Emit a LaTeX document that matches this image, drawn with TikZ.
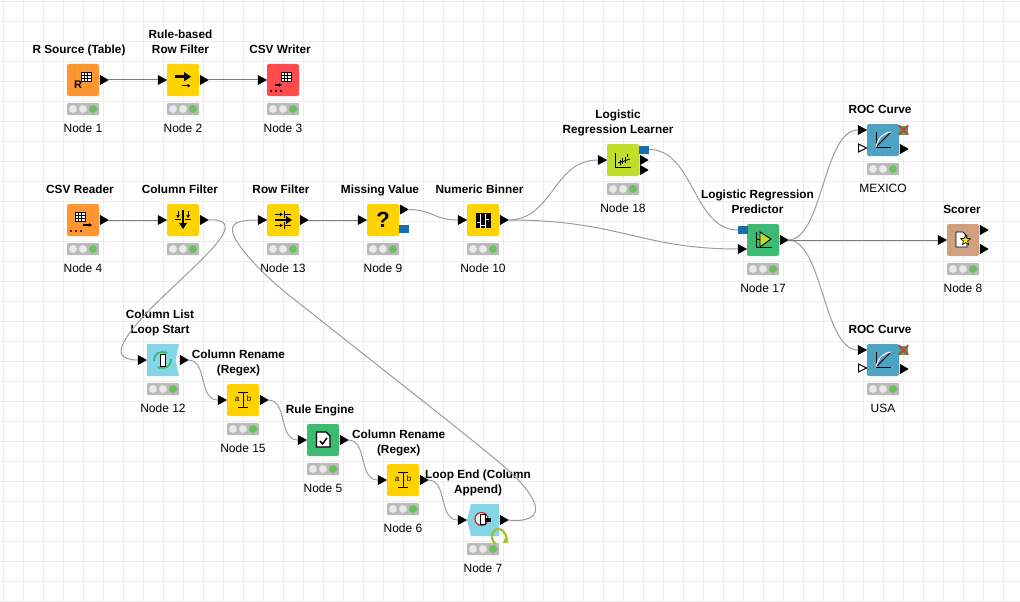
\documentclass[tikz,border=0pt]{standalone}
\usepackage{fontspec}
\setmainfont{Liberation Sans}
\usetikzlibrary{arrows.meta}
\definecolor{korange}{HTML}{FF9632}
\definecolor{kyellow}{HTML}{FFD300}
\definecolor{kred}{HTML}{FF4B4B}
\definecolor{kgreen}{HTML}{3DBB72}
\definecolor{klime}{HTML}{C1DE2D}
\definecolor{kblue}{HTML}{4EA3C3}
\definecolor{ktan}{HTML}{D1A07F}
\definecolor{kloop}{HTML}{84D5E8}
\definecolor{kport}{HTML}{1A6CB0}
\definecolor{kgrid}{HTML}{EDEDED}
\definecolor{kwire}{HTML}{9C9C9C}
\definecolor{kwired}{HTML}{7C7C7C}
\definecolor{klight}{HTML}{BABABA}
\definecolor{kled}{HTML}{E9E9E9}
\definecolor{kon}{HTML}{6CC05C}
\definecolor{kloopmark}{HTML}{A5BE2E}
\tikzset{
  x=1pt,y=-1pt,
  icon/.style={rectangle,rounded corners=2pt,minimum size=32pt,inner sep=0pt,outer sep=0pt},
  lightbar/.style={rectangle,rounded corners=1pt,fill=klight,minimum width=32pt,minimum height=12pt,inner sep=0pt},
  caption/.style={font=\fontsize{12}{15}\selectfont,inner sep=0pt,anchor=center,text=black},
  titletext/.style={font=\fontsize{11.8}{15}\selectfont\bfseries,inner sep=0pt,anchor=south,align=center,text depth=3pt,text=black},
  wire/.style={draw=kwire,line width=1pt},
  straightwire/.style={draw=kwired,line width=1pt},
  ink/.style={line width=1pt,draw=black},
  tip/.style={-{Stealth[length=3pt,width=3.5pt,inset=0.5pt]}},
  bigtip/.style={-{Triangle[length=5pt,width=6pt]}},
  modelport/.style={rectangle,fill=kport,minimum width=10pt,minimum height=8pt,inner sep=0pt},
  xport/.style={rectangle,fill=kon!85!black,minimum size=9pt,inner sep=0pt},
}
\newcommand{\kbox}[5]{%
  \node[icon,fill=#4] (#1) at (#2,#3) {};
  \node[lightbar] (#1L) at (#2,#3+29) {};
  \fill[kled] (#2-10,#3+29) circle (4);
  \fill[kled] (#2,#3+29) circle (4);
  \fill[kon] (#2+10,#3+29) circle (4);
  \node[caption] (#1C) at (#2,#3+48) {#5};
}
\newcommand{\kout}[3]{%
  \filldraw[black,line width=.5pt,line join=round] (#2+1.2,#3-4.6) -- (#2+9.2,#3) -- (#2+1.2,#3+4.6) -- cycle;
  \coordinate (#1) at (#2+9,#3);
}
\newcommand{\kin}[3]{%
  \filldraw[black,line width=.5pt,line join=round] (#2-9,#3-4.6) -- (#2-.5,#3) -- (#2-9,#3+4.6) -- cycle;
  \coordinate (#1) at (#2-9,#3);
}
\newcommand{\khollow}[3]{%
  \filldraw[fill=white,draw=black,line width=1pt] (#2-8.5,#3-4) -- (#2-0.5,#3) -- (#2-8.5,#3+4) -- cycle;
  \coordinate (#1) at (#2-9,#3);
}
\newcommand{\ktable}[2]{%
  \begin{scope}[shift={(#1,#2)}]
    \fill[white] (0,0) rectangle (10,9);
    \draw[black,line width=.9pt] (0,0) rectangle (10,9);
    \draw[black,line width=.6pt] (3.3,0) -- (3.3,9) (6.7,0) -- (6.7,9) (0,3) -- (10,3) (0,6) -- (10,6);
  \end{scope}
}
\newcommand{\kdots}[1]{%
  \fill[black] (-12,#1) circle (1.1) (-7,#1) circle (1.1) (-2,#1) circle (1.1);
}
\begin{document}
\begin{tikzpicture}
\useasboundingbox (0,0) rectangle (1020,602);
\fill[white] (0,0) rectangle (1020,602);
\foreach \gx in {0,...,50} \draw[kgrid,line width=1pt] (3.5+20*\gx,0) -- (3.5+20*\gx,602);
\foreach \gy in {0,...,30} \draw[kgrid,line width=1pt] (0,1.5+20*\gy) -- (1020,1.5+20*\gy);

% ---- boxes
\kbox{n1}{83}{80}{korange}{Node 1}
\kbox{n2}{183}{80}{kyellow}{Node 2}
\kbox{n3}{283}{80}{kred}{Node 3}
\kbox{n4}{83}{220}{korange}{Node 4}
\kbox{cf}{183}{220}{kyellow}{}
\kbox{n13}{283}{220}{kyellow}{Node 13}
\kbox{n9}{383}{220}{kyellow}{Node 9}
\kbox{n10}{483}{220}{kyellow}{Node 10}
\kbox{n18}{623}{160}{klime}{Node 18}
\kbox{n17}{763}{240}{kgreen}{Node 17}
\kbox{rm}{883}{140}{kblue}{MEXICO}
\kbox{n8}{963}{240}{ktan}{Node 8}
\kbox{ru}{883}{360}{kblue}{USA}
\kbox{n15}{243}{400}{kyellow}{Node 15}
\kbox{n5}{323}{440}{kgreen}{Node 5}
\kbox{n6}{403}{480}{kyellow}{Node 6}
\node[lightbar] (n12L) at (163,389) {};
\fill[kled] (153,389) circle (4) (163,389) circle (4);
\fill[kon] (173,389) circle (4);
\node[caption] (n12C) at (163,408) {Node 12};
\fill[kloop] (147,344) -- (179,344) -- (175.5,360) -- (179,376) -- (147,376) -- cycle;
\coordinate (n12) at (163,360);
\node[lightbar] (n7L) at (483,549) {};
\fill[kled] (473,549) circle (4) (483,549) circle (4);
\fill[kon] (493,549) circle (4);
\node[caption] (n7C) at (483,568) {Node 7};
\fill[kloop] (471,504) -- (499,504) -- (499,536) -- (471,536) -- (467,520) -- cycle;
\coordinate (n7) at (483,520);

% ---- titles
\node[titletext] (t1) at (79,57) {R Source (Table)};
\node[titletext] (t2) at (180.5,57) {Rule-based\\Row Filter};
\node[titletext] (t3) at (280,57) {CSV Writer};
\node[titletext] (t4) at (80,197) {CSV Reader};
\node[titletext] (t5) at (180,197) {Column Filter};
\node[titletext] (t6) at (281,197) {Row Filter};
\node[titletext] (t7) at (380,197) {Missing Value};
\node[titletext] (t8) at (479.5,197) {Numeric Binner};
\node[titletext] (t9) at (618,137) {Logistic\\Regression Learner};
\node[titletext] (t10) at (757.5,217) {Logistic Regression\\Predictor};
\node[titletext] (t11) at (880,117) {ROC Curve};
\node[titletext] (t12) at (962,217) {Scorer};
\node[titletext] (t13) at (880,337) {ROC Curve};
\node[titletext] (t14) at (160,337) {Column List\\Loop Start};
\node[titletext] (t15) at (238.5,377) {Column Rename\\(Regex)};
\node[titletext] (t16) at (320,417) {Rule Engine};
\node[titletext] (t17) at (398.7,457) {Column Rename\\(Regex)};
\node[titletext] (t18) at (478,497) {Loop End (Column\\Append)};

% ---- ports
\kout{p1o}{99}{80}
\kin{p2i}{167}{80}\kout{p2o}{199}{80}
\kin{p3i}{267}{80}
\kout{p4o}{99}{220}
\kin{p5i}{167}{220}\kout{p5o}{199}{220}
\kin{p13i}{267}{220}\kout{p13o}{299}{220}
\kin{p9i}{367}{220}\kout{p9o}{399}{209.5}
\node[modelport] (p9m) at (404,228.5) {};
\kin{p10i}{467}{220}\kout{p10o}{499}{220}
\kin{p18i}{607}{160}
\kout{p18a}{639}{160}\kout{p18b}{639}{170}
\node[modelport] (p18m) at (644,149.5) {};
\coordinate (p18mo) at (649,149.5);
\node[modelport] (p17m) at (743,230) {};
\coordinate (p17mi) at (738,230);
\kin{p17i}{747}{249}\kout{p17o}{779}{240}
\kin{prmi}{867}{130}\khollow{prmh}{867}{148}\kout{prmo}{899}{149}
\node[xport] (prmx) at (903.5,130) {};
\draw[red!45!gray,line width=1.8pt] (prmx.north west) -- (prmx.south east) (prmx.north east) -- (prmx.south west);
\kin{p8i}{947}{240}\kout{p8a}{979}{230}\kout{p8b}{979}{249}
\kin{prui}{867}{350}\khollow{pruh}{867}{368}\kout{pruo}{899}{369}
\node[xport] (prux) at (903.5,350) {};
\draw[red!45!gray,line width=1.8pt] (prux.north west) -- (prux.south east) (prux.north east) -- (prux.south west);
\kin{p12i}{147}{360}\kout{p12o}{179}{360}
\kin{p15i}{227}{400}\kout{p15o}{259}{400}
\kin{p5ai}{307}{440}\kout{p5ao}{339}{440}
\kin{p6i}{387}{480}\kout{p6o}{419}{480}
\kin{p7i}{467}{520}\kout{p7o}{499}{520}

% ---- bends of the two long wires
\coordinate (bendA) at (224,232);
\coordinate (bendB) at (124,342);
\coordinate (bendC) at (534,502);
\coordinate (bendD) at (447,420);
\coordinate (bendE) at (295,300);
\coordinate (bendF) at (234,236);

% ---- wires
\draw[straightwire] (p1o) -- (p2i);
\draw[straightwire] (p2o) -- (p3i);
\draw[straightwire] (p4o) -- (p5i);
\draw[straightwire] (p13o) -- (p9i);
\draw[wire] (p5o) .. controls (222,219) and (228,223) .. (bendA) .. controls (215,255) and (140,310) .. (bendB) .. controls (118,352) and (120,360) .. (p12i);
\draw[wire] (p7o) .. controls (525,522) and (541,518) .. (bendC) .. controls (525,480) and (490,455) .. (bendD) -- (bendE) .. controls (265,277) and (240,250) .. (bendF) .. controls (228,222) and (240,220) .. (p13i);
\draw[wire] (p9o) .. controls +(25,0) and +(-25,0) .. (p10i);
\draw[wire] (p10o) .. controls +(45,0) and +(-45,0) .. (p18i);
\draw[wire] (p10o) .. controls +(112,0) and +(-98,0) .. (p17i);
\draw[wire] (p18mo) .. controls +(45,0) and +(-45,0) .. (p17mi);
\draw[wire] (p17o) .. controls +(35,0) and +(-35,0) .. (prmi);
\draw[wire] (p17o) .. controls +(35,0) and +(-35,0) .. (prui);
\draw[straightwire] (p17o) -- (p8i);
\draw[wire] (p12o) .. controls +(20,0) and +(-20,0) .. (p15i);
\draw[wire] (p15o) .. controls +(20,0) and +(-20,0) .. (p5ai);
\draw[wire] (p5ao) .. controls +(20,0) and +(-20,0) .. (p6i);
\draw[wire] (p6o) .. controls +(20,0) and +(-20,0) .. (p7i);

% ---- icon glyphs
\begin{scope}[shift={(83,80)}]
  \ktable{-2}{-7.5}
  \node[font=\fontsize{11}{11}\selectfont\bfseries,inner sep=0pt] (g1) at (-5,5) {R};
\end{scope}
\begin{scope}[shift={(183,80)}]
  \draw[line width=2.6pt,black] (-8,-3.3) -- (2,-3.3);
  \fill[black] (1,-8) -- (8,-3.3) -- (1,1.4) -- cycle;
  \draw[black,line width=.8pt,tip] (-1,5.7) -- (7.5,5.7);
\end{scope}
\begin{scope}[shift={(283,80)}]
  \ktable{-2}{-7.5}
  \draw[black,line width=1.2pt,tip] (-8,5) -- (-1,5);
  \kdots{11}
\end{scope}
\begin{scope}[shift={(83,220)}]
  \ktable{-8}{-8}
  \draw[black,line width=1.2pt,tip] (0,5) -- (9,5);
  \kdots{11}
\end{scope}
\begin{scope}[shift={(183,220)}]
  \draw[black,line width=1.5pt] (0,-10) -- (0,4);
  \fill[black] (-4,3) -- (0,9) -- (4,3) -- cycle;
  \draw[black,line width=.8pt,tip] (-5,-9) -- (-5,-2);
  \draw[black,line width=.8pt,tip] (5,-9) -- (5,-2);
  \draw[black,line width=.8pt] (-8,-1) -- (-2,-1) (2,-1) -- (8,-1);
\end{scope}
\begin{scope}[shift={(283,220)}]
  \draw[black,line width=1.5pt] (-8,0) -- (4,0);
  \fill[black] (3,-4) -- (9,0) -- (3,4) -- cycle;
  \draw[black,line width=.8pt,tip] (-8,-5.7) -- (0,-5.7);
  \draw[black,line width=.8pt,tip] (-8,5.4) -- (0,5.4);
  \draw[black,line width=.8pt] (1,-9) -- (1,-2.5) (1,2.2) -- (1,8.7) (1,-5.7) -- (8,-5.7) (1,5.4) -- (8,5.4);
\end{scope}
\node[font=\fontsize{22}{22}\selectfont\bfseries,inner sep=0pt] (g9) at (383,220) {?};
\begin{scope}[shift={(483,220)}]
  \fill[black] (-7.5,-7.5) rectangle (7.5,7.5);
  \draw[white,line width=1pt] (-2.5,-6) -- (-2.5,7.5) (2.5,-6) -- (2.5,7.5)
     (-6,2) -- (-2.5,2) (-2.5,5) -- (2.5,5) (2.5,-1) -- (6,-1);
\end{scope}
\begin{scope}[shift={(623,160)}]
  \draw[ink] (-7.5,-7.5) -- (-7.5,7.5) -- (8,7.5);
  \draw[black,line width=.9pt] (-5,3) -- (7,-1);
  \draw[black,line width=.9pt] (-3,5) -- (-3,0) (-.5,4) -- (-.5,-2) (2,3) -- (2,-3) (4.5,-6) -- (4.5,-3);
\end{scope}
\begin{scope}[shift={(763,240)}]
  \draw[ink] (-7,-8) -- (-7,8) (-7,-1) -- (-3,-1) (-7,7) -- (9,7);
  \filldraw[fill=klime,draw=black,line width=.9pt] (-3,-8) -- (8,-1) -- (-3,7) -- cycle;
\end{scope}
\foreach \ry/\ra in {140/a,360/b}{
  \begin{scope}[shift={(883,\ry)}]
    \draw[ink] (-7,-8) -- (-7,7) -- (8,7);
    \draw[black,line width=.8pt] (-7,7) -- (8,-8);
    \draw[white,line width=1pt] (-7,7) .. controls (-5,-2) and (0,-7) .. (8,-8);
  \end{scope}
}
\begin{scope}[shift={(963,240)}]
  \filldraw[fill=white,draw=black,line width=.9pt] (-7,-8) -- (0,-8) -- (4,-4) -- (4,7) -- (-7,7) -- cycle;
  \filldraw[fill=yellow!85!orange,draw=black,line width=.6pt]
    (2.5,-5) -- (3.8,-1.6) -- (7.5,-1.4) -- (4.6,1) -- (5.6,4.6) -- (2.5,2.6) -- (-.6,4.6) -- (.4,1) -- (-2.5,-1.4) -- (1.2,-1.6) -- cycle;
\end{scope}
\begin{scope}[shift={(163,360)}]
  \draw[kgreen,line width=1.8pt,tip] (-9,1) .. controls (-9,-7) and (-3,-9) .. (5,-7);
  \draw[kgreen,line width=1.8pt,tip] (8,-1) .. controls (8,7) and (2,9) .. (-6,7);
  \filldraw[fill=white,draw=black,line width=.8pt] (-3,-5.5) rectangle (2,6);
\end{scope}
\foreach \ix/\iy in {243/400,403/480}{
  \begin{scope}[shift={(\ix,\iy)}]
    \draw[ink] (-5,-8) -- (5,-8) (0,-8) -- (0,7.5) (-5,7.5) -- (5,7.5);
    \node[font=\fontsize{8}{8}\selectfont,inner sep=0pt] at (-6,-.5) {a};
    \node[font=\fontsize{8}{8}\selectfont,inner sep=0pt] at (6,-1) {b};
  \end{scope}
}
\begin{scope}[shift={(323,440)}]
  \filldraw[fill=white,draw=black,line width=1.1pt] (-6.5,-8) -- (3,-8) -- (7,-4) -- (7,7) -- (-6.5,7) -- cycle;
  \draw[black,line width=1.5pt] (-3,1) -- (-.5,4) -- (4,-2);
\end{scope}
\begin{scope}[shift={(483,520)}]
  \filldraw[fill=white,draw=red!60!gray,line width=1.3pt] (-1.5,-1) circle (6.5);
  \filldraw[fill=white,draw=black,line width=.8pt] (-3,-5.5) rectangle (2,4.5);
  \fill[black] (3,-2.5) rectangle (8,1.5);
  \draw[kloopmark,line width=2.2pt,bigtip] (13,24) .. controls (7,21) and (8,9) .. (15,9) .. controls (23,9) and (24,20) .. (20,23);
\end{scope}
\end{tikzpicture}
\end{document}
